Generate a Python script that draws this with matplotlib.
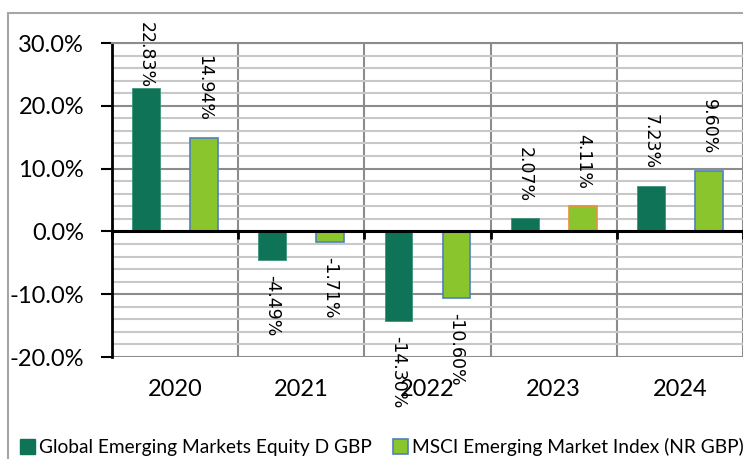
import matplotlib.pyplot as plt
from matplotlib.patches import Patch, Rectangle
from matplotlib.ticker import MultipleLocator, FuncFormatter

# данные
years = ['2020', '2021', '2022', '2023', '2024']
fund = [22.83, -4.49, -14.30, 2.07, 7.23]
index = [14.94, -1.71, -10.60, 4.11, 9.60]
fund_name = 'Global Emerging Markets Equity D GBP'
index_name = 'MSCI Emerging Market Index (NR GBP)'

dark = '#0F7457'
light = '#8AC52E'
index_edges = ['#4F81BD', '#4F81BD', '#4F81BD', '#E8913A', '#4F81BD']

tick_font = 'Lato'
label_font = 'DejaVu Sans'

fig = plt.figure(figsize=(7.43, 4.59), dpi=100)
W, H = 743, 459

# рамка вокруг всего графика
fig.patches.append(Rectangle((8 / W, -0.1), 1.2, (H - 13) / H + 0.1,
                             transform=fig.transFigure, fill=False,
                             edgecolor='#A6A6A6', lw=1.5))

ax = fig.add_axes([112 / W, (H - 357) / H, 1 - 112 / W, (357 - 43) / H])

x = list(range(len(years)))
bw = 0.22
off = 0.23
b1 = ax.bar([i - off for i in x], fund, width=bw, color=dark,
            edgecolor='#3C9478', lw=0.6, zorder=3)
b2 = ax.bar([i + off for i in x], index, width=bw, color=light,
            edgecolor=index_edges, lw=1.2, zorder=3)

ax.set_xlim(-0.5, 4.5)
ax.set_ylim(-20, 30)

ax.yaxis.set_major_locator(MultipleLocator(10))
ax.yaxis.set_minor_locator(MultipleLocator(2))
ax.yaxis.set_major_formatter(FuncFormatter(lambda v, p: f'{v:.1f}%'))
ax.tick_params(axis='y', which='major', direction='out', length=8,
               width=1.5, color='black', labelsize=17, pad=12)
ax.tick_params(axis='y', which='minor', length=0)
for t in ax.get_yticklabels():
    t.set_fontfamily(tick_font)

ax.set_xticks([i - 0.5 for i in range(len(years) + 1)])
ax.set_xticklabels([])
ax.tick_params(axis='x', direction='out', length=6, width=2, color='black')

ax.grid(axis='y', which='major', color='#8C8C8C', lw=1.5, zorder=0)
ax.grid(axis='y', which='minor', color='#C8C8C8', lw=1.5, zorder=0)
ax.grid(axis='x', which='major', color='#8C8C8C', lw=1.5, zorder=0)

ax.spines['bottom'].set_position(('data', 0))
ax.spines['bottom'].set_linewidth(2.2)
ax.spines['bottom'].set_zorder(4)
ax.spines['left'].set_linewidth(2)
ax.spines['left'].set_color('black')
ax.spines['top'].set_color('#8C8C8C')
ax.spines['top'].set_linewidth(1.5)
ax.spines['right'].set_visible(False)

for i, y in enumerate(years):
    ax.text(i, -0.105, y, transform=ax.get_xaxis_transform(), ha='center',
            va='center', fontsize=17, fontfamily=tick_font)

# подписи значений
labels = []
for bars, vals in ((b1, fund), (b2, index)):
    for bar, v in zip(bars, vals):
        xc = bar.get_x() + bar.get_width() / 2
        t = ax.annotate(f'{v:.2f}%', (xc, v), xytext=(0, 12 if v > 0 else -11),
                        textcoords='offset points', rotation=270,
                        ha='center', va='bottom' if v > 0 else 'top',
                        fontsize=12.5, fontfamily=label_font, zorder=5,
                        annotation_clip=False)
        labels.append(t)

# не даём подписи вылезти за верх графика
fig.canvas.draw()
r = fig.canvas.get_renderer()
for t in labels:
    bb = t.get_window_extent(r)
    top_lim = H - 22
    if bb.y1 > top_lim:
        xy = t.xyann
        t.xyann = (xy[0], xy[1] - (bb.y1 - top_lim) * 72 / fig.dpi)

handles = [Patch(facecolor=dark, edgecolor=dark),
           Patch(facecolor=light, edgecolor='#4F81BD', lw=1.2)]
fig.legend(handles, [fund_name, index_name], loc='center left',
           bbox_to_anchor=(20 / W, 12 / H), ncol=2, frameon=False,
           prop={'family': tick_font, 'size': 13.8}, handlelength=0.8,
           handleheight=0.8, handletextpad=0.2, columnspacing=1.1,
           borderaxespad=0, borderpad=0)

fig.savefig('out.png', dpi=100)
